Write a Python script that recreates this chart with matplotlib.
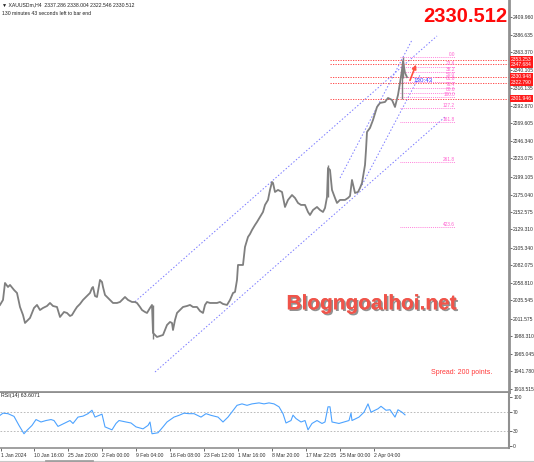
import matplotlib.pyplot as plt
import matplotlib.patheffects as pe
import matplotlib.transforms as mtransforms

plt.rcParams['font.family'] = ['Liberation Sans', 'DejaVu Sans']

# price path (x = bar position, value = close)
bar_x = [0, 3, 5, 8, 10, 14, 17, 20, 23, 25, 28, 30, 34, 37, 40, 43, 47, 50, 53, 57,
         60, 64, 67, 70, 72, 75, 77, 80, 83, 86, 90, 92, 93, 95, 97, 100, 102, 103, 105, 107,
         110, 113, 117, 120, 123, 125, 128, 132, 135, 137, 140, 142, 145, 147, 150, 152, 153, 155, 157, 160,
         163, 165, 167, 170, 172, 173, 175, 177, 180, 183, 187, 190, 193, 197, 200, 203, 205, 207, 210, 213,
         217, 220, 223, 227, 230, 233, 235, 237, 238, 241, 243, 245, 248, 250, 252, 255, 257, 260, 263, 265,
         268, 270, 272, 273, 275, 278, 282, 285, 288, 292, 295, 298, 301, 305, 308, 310, 313, 317, 320, 323,
         325, 327, 328, 330, 332, 335, 337, 340, 342, 345, 348, 350, 352, 355, 358, 360, 362, 363, 365, 366,
         367, 370, 373, 377, 380, 385, 388, 392, 395, 398, 400, 402, 403, 404, 405, 407]
close = [2029.6, 2036.2, 2058.6, 2053.3, 2056.0, 2049.4, 2045.4, 2026.9, 2016.3, 2005.8,
         2009.7, 2012.4, 2025.6, 2029.6, 2022.9, 2025.6, 2028.2, 2032.2, 2028.2, 2026.9,
         2013.7, 2020.3, 2019.0, 2015.0, 2016.3, 2022.9, 2026.9, 2030.9, 2036.2, 2040.1,
         2045.4, 2052.0, 2053.3, 2041.4, 2040.1, 2062.6, 2059.9, 2053.3, 2042.8, 2040.1,
         2036.2, 2032.2, 2032.2, 2033.5, 2037.5, 2040.1, 2036.2, 2033.5, 2033.5, 2032.2,
         2026.9, 2022.9, 2020.3, 2019.0, 2025.6, 2029.6, 1992.6, 1989.9, 1987.3, 1988.6,
         1989.9, 1996.5, 2003.1, 2007.1, 2005.8, 1996.5, 2009.7, 2019.0, 2022.9, 2026.9,
         2028.2, 2029.6, 2026.9, 2026.9, 2021.6, 2019.0, 2029.6, 2033.5, 2032.2, 2032.2,
         2032.2, 2033.5, 2030.9, 2029.6, 2036.2, 2045.4, 2046.7, 2062.6, 2082.4, 2082.4,
         2082.4, 2106.2, 2119.4, 2123.3, 2128.6, 2135.2, 2139.2, 2145.8, 2152.4, 2161.7,
         2168.3, 2181.5, 2192.0, 2190.7, 2178.8, 2181.5, 2178.8, 2159.0, 2168.3, 2174.8,
         2170.9, 2164.3, 2161.7, 2161.7, 2152.4, 2148.4, 2155.0, 2159.0, 2155.0, 2152.4,
         2157.7, 2172.2, 2210.5, 2207.9, 2181.5, 2170.9, 2164.3, 2168.3, 2168.3, 2168.3,
         2170.9, 2173.5, 2194.7, 2177.5, 2178.8, 2184.1, 2190.7, 2198.6, 2214.5, 2234.3,
         2258.1, 2263.4, 2273.9, 2291.1, 2296.4, 2297.7, 2303.0, 2300.4, 2291.1, 2307.0,
         2322.8, 2340.0, 2351.9, 2343.9, 2336.0, 2330.5]

# a few long wicks
wick_x = [153, 328, 402, 403]
wick_hi = [2029.6, 2214.0, 2343.9, 2357.2]
wick_lo = [1985.0, 2172.0, 2301.9, 2330.0]

# RSI(14)
rsi_x = [0, 3, 8, 14, 19, 24, 27, 32, 36, 41, 46, 51, 54, 58, 65, 70, 73, 78, 83, 88,
         92, 95, 102, 105, 112, 116, 119, 126, 131, 136, 143, 148, 150, 152, 158, 163, 167, 174, 179, 184,
         189, 194, 201, 206, 211, 218, 223, 228, 231, 237, 242, 247, 252, 259, 264, 269, 274, 279, 283, 286,
         291, 293, 296, 301, 305, 308, 312, 317, 322, 325, 328, 330, 332, 339, 344, 349, 351, 352, 359, 364,
         368, 371, 378, 381, 386, 390, 395, 398, 402, 405]
rsi = [62.6, 67, 66, 60.5, 42, 25, 32, 42, 54, 49, 52, 54, 52, 40, 47, 52, 46, 59, 61, 66,
       73, 59, 65, 39, 33, 46, 52, 49, 47, 39, 35, 42, 49, 25, 27, 39, 49, 59, 62.6, 67,
       66, 66, 59, 66, 62.6, 59, 49, 59, 67, 83, 86, 83, 86, 88, 86, 88, 86, 80, 66, 47,
       52, 63, 56, 49, 52, 33, 46, 52, 46, 49, 80, 80, 49, 46, 49, 52, 67, 52, 59, 69,
       86, 69, 76, 81, 73, 74, 59, 74, 69, 63.6]

# price scale labels
ytick_vals = [2409.960, 2386.635, 2363.370, 2340.105, 2316.135, 2292.870, 2269.605, 2246.340,
              2223.075, 2199.105, 2175.040, 2152.575, 2129.310, 2105.340, 2082.075, 2058.810,
              2035.545, 2011.575, 1988.310, 1965.045, 1941.780, 1918.515]

# red horizontal price lines
red_levels = [2353.253, 2347.684, 2330.948, 2322.790, 2301.946]

# fibonacci
fib_levels = [0.0, 23.6, 38.2, 50.0, 61.8, 76.4, 88.6, 100.0, 127.2, 161.8, 261.8, 423.6]
fib_top = 2357.0
fib_bottom = 2304.0

# channels: (x0, p0, x1, p1)
channels = [(135, 2033.9, 437, 2384.9),
            (155, 1941.0, 445, 2277.9),
            (340, 2197.3, 412, 2379.6),
            (362, 2188.0, 420, 2333.4)]

date_pos = [1, 34, 68, 102, 136, 170, 204, 238, 272, 306, 340, 374]
date_labels = ['1 Jan 2024', '10 Jan 16:00', '25 Jan 20:00', '2 Feb 00:00', '9 Feb 04:00',
               '16 Feb 08:00', '23 Feb 12:00', '1 Mar 16:00', '8 Mar 20:00', '17 Mar 22:05',
               '25 Mar 00:00', '2 Apr 04:00']

W, H = 534, 462
fig = plt.figure(figsize=(W / 100, H / 100), dpi=100)
ax = fig.add_axes([0, 1 - 392 / H, 509 / W, 392 / H])
ax2 = fig.add_axes([0, 1 - 448 / H, 509 / W, 55 / H])

fs = 3.6
ax.set_xlim(0, 509)
ax.set_ylim(1914.6, 2432.4)

# channels
for x0, p0, x1, p1 in channels:
    ax.plot([x0, x1], [p0, p1], color='#7a7aff', lw=0.7, ls=(0, (1.5, 2)))

# red lines
for lv in red_levels:
    ax.plot([330, 509], [lv, lv], color='#ff3030', lw=0.6, ls=(0, (1.5, 1.5)))

# fib lines
rng = fib_top - fib_bottom
for f in fib_levels:
    p = fib_top - rng * f / 100
    ax.plot([400, 455], [p, p], color='#ff5fd0', lw=0.6, ls=(0, (1, 1.3)))
    ax.text(455, p + 0.6, f'{f:.1f}', fontsize=3.4, color='#ff5fd0', ha='right', va='bottom')

# price
ax.vlines(wick_x, wick_lo, wick_hi, color='#7f7f7f', lw=1.0)
ax.plot(bar_x, close, color='#7f7f7f', lw=1.3)

ax.annotate('', xy=(417, 2350.5), xytext=(409, 2322.8),
            arrowprops=dict(arrowstyle='-|>', color='#ff5040', lw=1.2, mutation_scale=6))
ax.text(413, 2325.5, '130:43', fontsize=4.5, color='#3a3aff', va='center')

for sp in ['left', 'top']:
    ax.spines[sp].set_visible(False)
ax.spines['right'].set_color('#909090')
ax.spines['right'].set_linewidth(2)
ax.spines['bottom'].set_color('#909090')
ax.spines['bottom'].set_linewidth(2)
ax.set_xticks([])
ax.yaxis.tick_right()
ax.set_yticks(ytick_vals)
ax.set_yticklabels([f'{v:.3f}' for v in ytick_vals])
ax.tick_params(axis='y', labelsize=fs, length=2, width=0.6, color='#505050', pad=1,
               labelcolor='#303030')

trans = mtransforms.blended_transform_factory(ax.transAxes, ax.transData)
for lv in red_levels:
    ax.text(1.004, lv, f'{lv:.3f}', transform=trans, fontsize=fs, color='white',
            va='center', ha='left', clip_on=False,
            bbox=dict(boxstyle='square,pad=0.2', fc='#ff1a1a', ec='none'))

ax.text(2, 2426.5, '\u25bc XAUUSDm,H4  2337.286 2338.004 2322.546 2330.512',
        fontsize=3.7, color='#202020', va='center')
ax.text(2, 2415, '130 minutes 43 seconds left to bar end', fontsize=3.7, color='#202020', va='center')
ax.text(507, 2403.8, '2330.512', fontsize=14.5, fontweight='bold', color='#ff0a0a',
        ha='right', va='baseline')
ax.text(372, 2023.8, 'Blogngoalhoi.net', fontsize=15, fontweight='bold', color='#f0544a',
        ha='center', va='baseline',
        path_effects=[pe.withSimplePatchShadow(offset=(1.2, -1.2), shadow_rgbFace='#777777', alpha=0.8),
                      pe.Normal()])
ax.text(492, 1941.0, 'Spread: 200 points.', fontsize=5, color='#ff3a3a', ha='right', va='center')

# RSI panel
ax2.set_xlim(0, 509)
ax2.set_ylim(-4.1, 108.2)
for lv in [70, 30]:
    ax2.axhline(lv, color='#b0b0b0', lw=0.6, ls=(0, (2, 2)))
ax2.plot(rsi_x, rsi, color='#4da3ff', lw=0.8)
ax2.text(1, 103, 'RSI(14) 63.6071', fontsize=3.8, color='#202020', va='center')
for sp in ['left', 'top']:
    ax2.spines[sp].set_visible(False)
ax2.spines['right'].set_color('#909090')
ax2.spines['right'].set_linewidth(1.5)
ax2.spines['bottom'].set_color('#909090')
ax2.spines['bottom'].set_linewidth(1.2)
ax2.yaxis.tick_right()
ax2.set_yticks([100, 70, 30, 0])
ax2.set_yticklabels(['100', '70', '30', '0'])
ax2.tick_params(axis='y', labelsize=fs, length=2, width=0.6, color='#505050', pad=1,
                labelcolor='#303030')
ax2.set_xticks(date_pos)
ax2.set_xticklabels(date_labels, ha='left')
ax2.tick_params(axis='x', labelsize=3.7, length=2, width=0.6, color='#505050', pad=1.5,
                labelcolor='#303030')

fig.add_artist(plt.Line2D([0, 1], [0.5 / H, 0.5 / H], color='#c8c8c8', lw=1.5))
fig.add_artist(plt.Line2D([46 / W, 92 / W], [1 / H, 1 / H], color='#a0a0a0', lw=2))

fig.savefig('out.png', dpi=100)
